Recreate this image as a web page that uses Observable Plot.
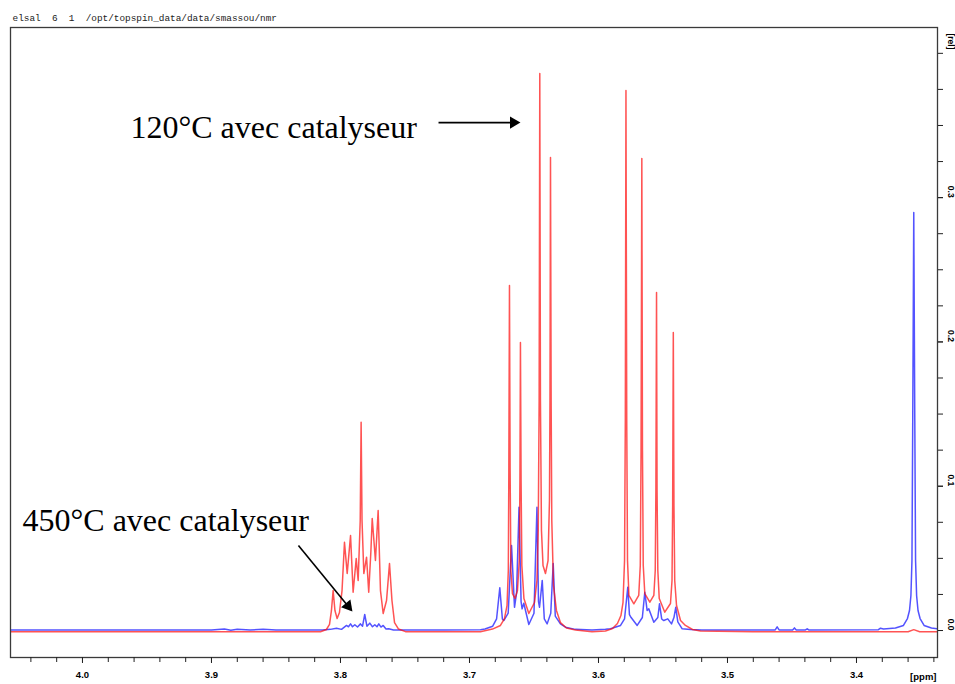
<!DOCTYPE html>
<html><head><meta charset="utf-8">
<script src="https://cdn.jsdelivr.net/npm/d3@7"></script>
<script src="https://cdn.jsdelivr.net/npm/@observablehq/plot@0.6"></script>
<style>body{margin:0;background:#fff} svg{display:block}</style>
</head><body><div id="chart"></div>
<script>
// ---- Data ----
const headerText = "elsal\u00a0\u00a06\u00a0\u00a01\u00a0\u00a0/opt/topspin_data/data/smassou/nmr";
const series = ["120°C avec catalyseur", "450°C avec catalyseur"];
const xMajorTicks = [4.0, 3.9, 3.8, 3.7, 3.6, 3.5, 3.4];
const yMajorTicks = [0.0, 0.1, 0.2, 0.3];

// 120°C spectrum (red): chemical shift (ppm) and relative intensity
const redPpm = [4.0558, 3.95, 3.85, 3.8155, 3.8109, 3.8085, 3.8070, 3.8057, 3.8043, 3.8026, 3.8008, 3.7988, 3.7969, 3.7948, 3.7922, 3.7902, 3.7878, 3.7863, 3.7847, 3.7840, 3.7833, 3.7819, 3.7798, 3.7781, 3.7764, 3.7754, 3.7729, 3.7708, 3.7690, 3.7669, 3.7643, 3.7620, 3.7601, 3.7581, 3.7550, 3.7496, 3.7200,
  3.6915, 3.6822, 3.6760, 3.6729, 3.6709, 3.6699, 3.6695, 3.6690, 3.6685, 3.6679, 3.6667, 3.6647, 3.6628, 3.6614, 3.6609, 3.6605, 3.6600, 3.6594, 3.6578, 3.6540, 3.6496, 3.6477, 3.6467, 3.6460, 3.6455, 3.6450, 3.6442, 3.6430, 3.6411, 3.6391, 3.6380, 3.6376, 3.6372, 3.6367, 3.6362, 3.6349, 3.6326, 3.6295, 3.6248, 3.6178, 3.6050,
  3.5946, 3.5891, 3.5853, 3.5826, 3.5810, 3.5798, 3.5792, 3.5787, 3.5781, 3.5775, 3.5764, 3.5726, 3.5688, 3.5676, 3.5670, 3.5664, 3.5659, 3.5653, 3.5641, 3.5602, 3.5571, 3.5560, 3.5555, 3.5550, 3.5546, 3.5540, 3.5529, 3.5486, 3.5442, 3.5430, 3.5425, 3.5420, 3.5415, 3.5409, 3.5395, 3.5364, 3.5326, 3.5271, 3.5209, 3.4800, 3.4400, 3.3600, 3.3556, 3.3510, 3.3364];
const redInt = [-0.0008, -0.0008, -0.0008, -0.0008, 0.0007, 0.0042, 0.0139, 0.0277, 0.0139, 0.0083, 0.0125, 0.0277, 0.0612, 0.0395, 0.0658, 0.0265, 0.0499, 0.0347, 0.0762, 0.1444, 0.0762, 0.0395, 0.0508, 0.0265, 0.0554, 0.0776, 0.0485, 0.0832, 0.0277, 0.0118, 0.0208, 0.0464, 0.0208, 0.0055, 0.0010, -0.0008, -0.0008,
  -0.0008, 0.0010, 0.0035, 0.0083, 0.0173, 0.0416, 0.1109, 0.2391, 0.1109, 0.0416, 0.0256, 0.0222, 0.0277, 0.0485, 0.1040, 0.1996, 0.1040, 0.0450, 0.0222, 0.0118, 0.0194, 0.0347, 0.0693, 0.1594, 0.3860, 0.1594, 0.0693, 0.0450, 0.0395, 0.0485, 0.0901, 0.1594, 0.3278, 0.1594, 0.0762, 0.0312, 0.0139, 0.0055, 0.0017, 0.0003, -0.0008,
  -0.0003, 0.0014, 0.0049, 0.0104, 0.0194, 0.0485, 0.1455, 0.3742, 0.1455, 0.0485, 0.0243, 0.0185, 0.0243, 0.0450, 0.1247, 0.3271, 0.1247, 0.0450, 0.0256, 0.0196, 0.0243, 0.0416, 0.0970, 0.2342, 0.0970, 0.0416, 0.0222, 0.0127, 0.0187, 0.0347, 0.0866, 0.2065, 0.0866, 0.0347, 0.0173, 0.0069, 0.0035, 0.0007, -0.0003, -0.0008, -0.0008, -0.0008, 0.0006, -0.0008, -0.0008];

// 450°C spectrum (blue)
const bluePpm = [4.0558, 3.9000, 3.8900, 3.8850, 3.8800, 3.8700, 3.8600, 3.8500, 3.8140, 3.8078, 3.8031, 3.7992, 3.7953, 3.7938, 3.7922, 3.7907, 3.7889, 3.7868, 3.7845, 3.7829, 3.7812, 3.7795, 3.7773, 3.7752, 3.7734, 3.7717, 3.7703, 3.7686, 3.7669, 3.7647, 3.7626, 3.7589, 3.7200,
  3.6915, 3.6880, 3.6820, 3.6790, 3.6765, 3.6745, 3.6734, 3.6700, 3.6674, 3.6651, 3.6635, 3.6616, 3.6600, 3.6592, 3.6579, 3.6540, 3.6500, 3.6477, 3.6465, 3.6457, 3.6436, 3.6420, 3.6398, 3.6370, 3.6351, 3.6335, 3.6295, 3.6256, 3.6180, 3.6050,
  3.5946, 3.5907, 3.5829, 3.5798, 3.5773, 3.5760, 3.5747, 3.5700, 3.5660, 3.5641, 3.5623, 3.5610, 3.5571, 3.5540, 3.5527, 3.5510, 3.5494, 3.5463, 3.5434, 3.5415, 3.5401, 3.5385, 3.5351, 3.5287, 3.5200,
  3.4630, 3.4615, 3.4600, 3.4495, 3.4481, 3.4467, 3.4395, 3.4382, 3.4370, 3.3830, 3.3814, 3.3790,
  3.3698, 3.3636, 3.3605, 3.3589, 3.3578, 3.3570, 3.3564, 3.3556, 3.3548, 3.3542, 3.3534, 3.3523, 3.3507, 3.3476, 3.3419, 3.3364];
const blueInt = [0.0004, 0.0004, 0.0010, 0.0002, 0.0009, 0.0003, 0.0008, 0.0004, 0.0004, 0.0008, 0.0016, 0.0008, 0.0035, 0.0026, 0.0046, 0.0026, 0.0040, 0.0024, 0.0046, 0.0030, 0.0111, 0.0030, 0.0051, 0.0026, 0.0040, 0.0026, 0.0046, 0.0024, 0.0035, 0.0010, 0.0012, 0.0004, 0.0004,
  0.0006, 0.0010, 0.0030, 0.0080, 0.0296, 0.0080, 0.0069, 0.0120, 0.0589, 0.0161, 0.0260, 0.0854, 0.0200, 0.0150, 0.0189, 0.0042, 0.0120, 0.0854, 0.0200, 0.0161, 0.0347, 0.0080, 0.0046, 0.0120, 0.0464, 0.0100, 0.0046, 0.0023, 0.0008, 0.0004,
  0.0008, 0.0012, 0.0035, 0.0080, 0.0300, 0.0110, 0.0090, 0.0035, 0.0090, 0.0265, 0.0139, 0.0150, 0.0058, 0.0090, 0.0185, 0.0080, 0.0069, 0.0081, 0.0046, 0.0090, 0.0161, 0.0060, 0.0012, 0.0007, 0.0004,
  0.0004, 0.0025, 0.0004, 0.0004, 0.0018, 0.0004, 0.0004, 0.0012, 0.0004, 0.0006, 0.0016, 0.0010,
  0.0017, 0.0035, 0.0083, 0.0139, 0.0243, 0.0485, 0.1455, 0.2897, 0.1455, 0.0485, 0.0243, 0.0139, 0.0083, 0.0035, 0.0017, 0.0010];

// ---- Build tables ----
const red = redPpm.map((p, i) => ({ppm: p, v: redInt[i]}));
const blue = bluePpm.map((p, i) => ({ppm: p, v: blueInt[i]}));
const xMinorTicks = d3.range(0, 36).map(i => +(4.04 - i * 0.02).toFixed(2));
const yMinorTicks = d3.range(0, 17).map(i => +(i * 0.025).toFixed(3));
const fmt = d3.format(".1f");

const chart = Plot.plot({
  width: 955, height: 684,
  marginTop: 27, marginRight: 18, marginBottom: 27, marginLeft: 10,
  x: {domain: [4.0558, 3.3372], label: null},
  y: {domain: [-0.0187, 0.4179], label: null},
  style: {fontFamily: "Liberation Sans, Arial, sans-serif", background: "#fff", overflow: "visible"},
  marks: [
    Plot.line(blue, {x: "ppm", y: "v", stroke: "#1010ff", strokeWidth: 1.5, strokeOpacity: 0.72, clip: true}),
    Plot.line(red, {x: "ppm", y: "v", stroke: "#ff1010", strokeWidth: 1.5, strokeOpacity: 0.72, clip: true}),
    Plot.frame({stroke: "#3a3a3a", strokeWidth: 1.3}),
    Plot.axisX({ticks: xMinorTicks, tickSize: 5, tickFormat: () => "", stroke: "#222"}),
    Plot.axisX({ticks: xMajorTicks, tickSize: 6, tickPadding: 8, tickFormat: fmt, fontSize: 9.5, fontWeight: "bold", stroke: "#222"}),
    Plot.axisY({anchor: "right", ticks: yMinorTicks, tickSize: 5, tickFormat: () => "", stroke: "#222"}),
    Plot.axisY({anchor: "right", ticks: yMajorTicks, tickSize: 5, tickFormat: () => "", stroke: "#222"}),
    Plot.text(yMajorTicks, {y: d => d, text: d => fmt(d), frameAnchor: "right", dx: 13, rotate: 90, fontSize: 8.5, fontWeight: "bold"}),
    Plot.text(["[rel]"], {frameAnchor: "top-right", dx: 13, dy: 14, rotate: 90, textAnchor: "middle", lineAnchor: "middle", fontSize: 8.5, fontWeight: "bold"}),
    Plot.text(["[ppm]"], {frameAnchor: "bottom-right", dx: -1, dy: 19, textAnchor: "end", lineAnchor: "middle", fontSize: 9.5, fontWeight: "bold"}),
    Plot.text([headerText], {frameAnchor: "top-left", dx: 2, dy: -10, textAnchor: "start", lineAnchor: "middle", fontSize: 9.4, fontFamily: "Liberation Mono, monospace", fill: "#222"}),
    // annotations
    Plot.text([series[0]], {x: 3.9628, y: 0.3486, textAnchor: "start", lineAnchor: "middle", fontSize: 32, fontFamily: "Liberation Serif, Times New Roman, serif", fill: "#000"}),
    Plot.text([series[1]], {x: 4.0465, y: 0.0762, textAnchor: "start", lineAnchor: "middle", fontSize: 32, fontFamily: "Liberation Serif, Times New Roman, serif", fill: "#000"}),
    Plot.link([series[0]], {x1: 3.7240, y1: 0.352, x2: 3.6640, y2: 0.352, stroke: "#000", strokeWidth: 1.6}),
    Plot.dot([series[0]], {x: 3.6659, y: 0.352, symbol: "triangle", r: 4.5, fill: "#000", stroke: null, rotate: 90}),
    Plot.link([series[1]], {x1: 3.8326, y1: 0.0589, x2: 3.7950, y2: 0.0178, stroke: "#000", strokeWidth: 1.6}),
    Plot.dot([series[1]], {x: 3.7942, y: 0.0169, symbol: "triangle", r: 4.5, fill: "#000", stroke: null, rotate: 140.3})
  ]
});
document.getElementById("chart").appendChild(chart);
</script>
</body></html>
